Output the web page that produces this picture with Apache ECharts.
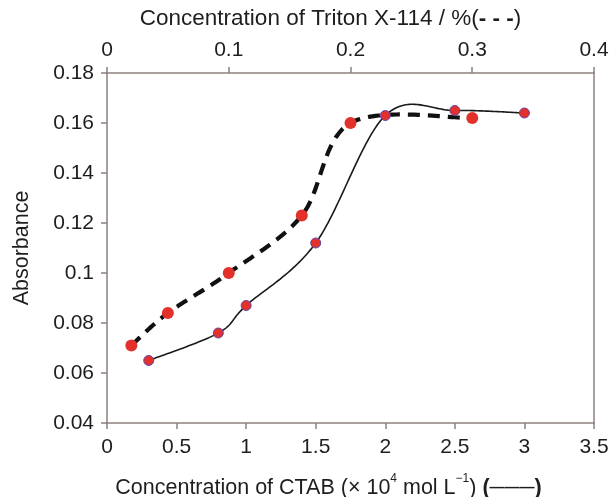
<!DOCTYPE html>
<html>
<head>
<meta charset="utf-8">
<script src="https://cdn.jsdelivr.net/npm/echarts@6/dist/echarts.min.js"></script>
<style>
  html, body { margin: 0; padding: 0; background: #fff; }
  #chart { width: 609px; height: 497px; }
</style>
</head>
<body>
<div id="chart"></div>
<script>
// CTAB concentration (x 10^4 mol/L) vs absorbance -- solid line, bottom axis
const ctabConc = [0.3, 0.8, 1.0, 1.5, 2.0, 2.5, 3.0];
const ctabAbs = [0.065, 0.076, 0.087, 0.112, 0.163, 0.165, 0.164];

// Triton X-114 concentration (%) vs absorbance -- dashed line, top axis
const tritonConc = [0.02, 0.05, 0.10, 0.16, 0.20, 0.30];
const tritonAbs = [0.071, 0.084, 0.100, 0.123, 0.160, 0.162];

// Axis ranges and tick steps
const ctabTicks = { min: 0, max: 3.5, interval: 0.5 };
const tritonTicks = { min: 0, max: 0.4, interval: 0.1 };
const absTicks = { min: 0.04, max: 0.18, interval: 0.02 };

const FONT = '"Liberation Sans", Arial, sans-serif';
const TEXT = '#1e1e1e';
const AXIS = '#8a817c';
const NAME_SIZE = 21.5;
const TOP_NAME_SIZE = 22.5;
const LABEL_SIZE = 21;

const pair = (xs, ys) => xs.map((x, i) => [x, ys[i]]);

// Spreadsheet-style smoothed curve: Catmull-Rom spline (tension 1/6) through
// the pixel positions of the data points, sampled into a polyline.
function smoothCurve(pts, steps) {
  const out = [];
  const n = pts.length;
  for (let i = 0; i < n - 1; i++) {
    const p0 = pts[Math.max(i - 1, 0)];
    const p1 = pts[i];
    const p2 = pts[i + 1];
    const p3 = pts[Math.min(i + 2, n - 1)];
    const c1 = [p1[0] + (p2[0] - p0[0]) / 6, p1[1] + (p2[1] - p0[1]) / 6];
    const c2 = [p2[0] - (p3[0] - p1[0]) / 6, p2[1] - (p3[1] - p1[1]) / 6];
    for (let s = (i === 0 ? 0 : 1); s <= steps; s++) {
      const t = s / steps, u = 1 - t;
      const a = u * u * u, b = 3 * u * u * t, c = 3 * u * t * t, d = t * t * t;
      out.push([
        a * p1[0] + b * c1[0] + c * c2[0] + d * p2[0],
        a * p1[1] + b * c1[1] + c * c2[1] + d * p2[1]
      ]);
    }
  }
  return out;
}

function curveRenderer(xs, ys, lineStyle) {
  return function (params, api) {
    if (params.dataIndex !== 0) return null;
    const pts = xs.map((x, i) => api.coord([x, ys[i]]));
    return {
      type: 'polyline',
      silent: true,
      shape: { points: smoothCurve(pts, 40) },
      style: Object.assign({ fill: null }, lineStyle)
    };
  };
}

const chart = echarts.init(document.getElementById('chart'), null, { renderer: 'canvas' });

chart.setOption({
  backgroundColor: '#ffffff',
  animation: false,
  grid: { left: 107, right: 15, top: 73, bottom: 74, containLabel: false, outerBoundsMode: 'none' },
  xAxis: [
    {
      type: 'value', position: 'bottom',
      min: ctabTicks.min, max: ctabTicks.max, interval: ctabTicks.interval,
      name: '{t|Concentration of CTAB (× 10}{sup|4}{t| mol L}{sup|−1}{t|) }{p|(}{s|———}{p|)}',
      nameLocation: 'middle', nameGap: 50,
      nameTextStyle: {
        padding: [0, 44, 0, 0],
        rich: {
          t: { fontFamily: FONT, fontSize: NAME_SIZE, color: TEXT, lineHeight: 26, verticalAlign: 'bottom' },
          sup: { fontFamily: FONT, fontSize: 12, color: TEXT, lineHeight: 26, verticalAlign: 'top' },
          p: { fontFamily: FONT, fontSize: NAME_SIZE, color: TEXT, fontWeight: 'bold', lineHeight: 26, verticalAlign: 'bottom' },
          s: { fontFamily: FONT, fontSize: 15, color: TEXT, fontWeight: 'bold', lineHeight: 26, verticalAlign: 'bottom', padding: [0, 0, 4, 0] }
        }
      },
      axisLine: { show: true, onZero: false, lineStyle: { color: AXIS, width: 1.5 } },
      axisTick: { show: true, inside: false, length: 6, lineStyle: { color: AXIS, width: 1.5 } },
      axisLabel: { fontFamily: FONT, fontSize: LABEL_SIZE, color: TEXT, margin: 14 },
      splitLine: { show: false }
    },
    {
      type: 'value', position: 'top',
      min: tritonTicks.min, max: tritonTicks.max, interval: tritonTicks.interval,
      name: '{t|Concentration of Triton X-114 / %}{p|(}{d|- - -}{p|)}',
      nameLocation: 'middle', nameGap: 43,
      nameTextStyle: {
        padding: [0, 40, 0, 0],
        rich: {
          t: { fontFamily: FONT, fontSize: TOP_NAME_SIZE, color: TEXT },
          p: { fontFamily: FONT, fontSize: TOP_NAME_SIZE, color: TEXT },
          d: { fontFamily: FONT, fontSize: TOP_NAME_SIZE, color: TEXT, fontWeight: 'bold' }
        }
      },
      axisLine: { show: true, onZero: false, lineStyle: { color: AXIS, width: 1.5 } },
      axisTick: { show: true, inside: false, length: 6, lineStyle: { color: AXIS, width: 1.5 } },
      axisLabel: { fontFamily: FONT, fontSize: LABEL_SIZE, color: TEXT, margin: 12 },
      splitLine: { show: false }
    }
  ],
  yAxis: [
    {
      type: 'value', position: 'left',
      min: absTicks.min, max: absTicks.max, interval: absTicks.interval,
      name: 'Absorbance', nameLocation: 'middle', nameGap: 74,
      nameTextStyle: { fontFamily: FONT, fontSize: NAME_SIZE, color: TEXT },
      axisLine: { show: true, onZero: false, lineStyle: { color: AXIS, width: 1.5 } },
      axisTick: { show: true, inside: false, length: 6, lineStyle: { color: AXIS, width: 1.5 } },
      axisLabel: {
        fontFamily: FONT, fontSize: LABEL_SIZE, color: TEXT, margin: 13,
        formatter: v => String(parseFloat(v.toFixed(2)))
      },
      splitLine: { show: false }
    },
    {
      type: 'value', position: 'right',
      min: absTicks.min, max: absTicks.max, interval: absTicks.interval,
      axisLine: { show: true, onZero: false, lineStyle: { color: AXIS, width: 1.5 } },
      axisTick: { show: false },
      axisLabel: { show: false },
      splitLine: { show: false }
    }
  ],
  series: [
    {
      name: 'Triton X-114 curve',
      type: 'custom',
      xAxisIndex: 1, yAxisIndex: 0,
      data: pair(tritonConc, tritonAbs),
      encode: { x: 0, y: 1 },
      clip: false,
      renderItem: curveRenderer(tritonConc, tritonAbs, {
        stroke: '#111111', lineWidth: 4.2, lineDash: [12, 8]
      }),
      z: 2
    },
    {
      name: 'Triton X-114',
      type: 'scatter',
      xAxisIndex: 1, yAxisIndex: 0,
      data: pair(tritonConc, tritonAbs),
      symbol: 'circle', symbolSize: 12,
      itemStyle: { color: '#e3302b', borderWidth: 0, opacity: 1 },
      z: 3
    },
    {
      name: 'CTAB curve',
      type: 'custom',
      xAxisIndex: 0, yAxisIndex: 0,
      data: pair(ctabConc, ctabAbs),
      encode: { x: 0, y: 1 },
      clip: false,
      renderItem: curveRenderer(ctabConc, ctabAbs, {
        stroke: '#1a1a1a', lineWidth: 1.6
      }),
      z: 4
    },
    {
      name: 'CTAB',
      type: 'scatter',
      xAxisIndex: 0, yAxisIndex: 0,
      data: pair(ctabConc, ctabAbs),
      symbol: 'circle', symbolSize: 10,
      itemStyle: { color: '#e3302b', borderColor: '#5b46b0', borderWidth: 1, opacity: 1 },
      z: 5
    }
  ]
});
</script>
</body>
</html>
